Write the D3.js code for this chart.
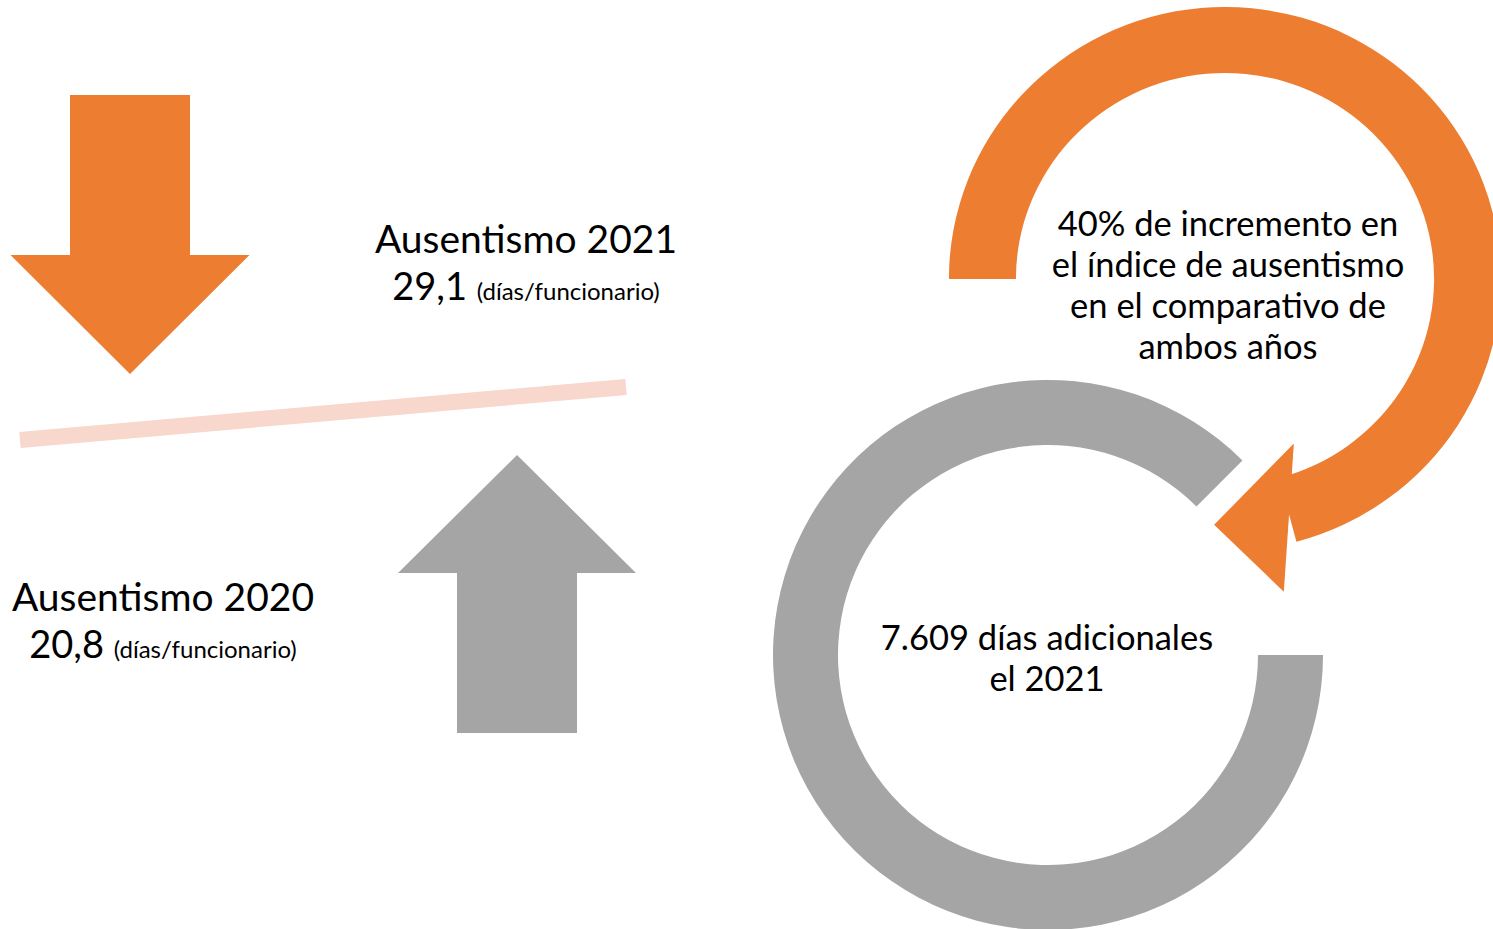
<!DOCTYPE html>
<html lang="es">
<head>
<meta charset="utf-8">
<title>Ausentismo 2020 - 2021</title>
<script src="https://cdn.jsdelivr.net/npm/d3@7"></script>
<style>
  html, body { margin: 0; padding: 0; background: #fff; }
  svg text { font-family: Lato, "Open Sans", sans-serif; fill: #000; }
</style>
</head>
<body>
<script>
// data
const years = ["2020", "2021"];
const daysPerEmployee = ["20,8", "29,1"];
const unitLabel = "(días/funcionario)";
const increaseLines = ["40% de incremento en", "el índice de ausentismo", "en el comparativo de", "ambos años"];
const extraDaysLines = ["7.609 días adicionales", "el 2021"];

const width = 1493, height = 929;
const orange = "#ED7D31", gray = "#A5A5A5", pale = "#F8D7CC";

const svg = d3.select("body").append("svg")
  .attr("width", width).attr("height", height);

// block arrows (down = orange, up = gray)
function blockArrow(cx, tailY, headY, tipY, shaftW, headW) {
  const p = d3.path();
  p.moveTo(cx - shaftW / 2, tailY);
  p.lineTo(cx + shaftW / 2, tailY);
  p.lineTo(cx + shaftW / 2, headY);
  p.lineTo(cx + headW / 2, headY);
  p.lineTo(cx, tipY);
  p.lineTo(cx - headW / 2, headY);
  p.lineTo(cx - shaftW / 2, headY);
  p.closePath();
  return p.toString();
}
svg.append("path").attr("d", blockArrow(130, 95, 255, 374, 120, 239)).attr("fill", orange);
svg.append("path").attr("d", blockArrow(517, 733, 573, 455, 120, 238)).attr("fill", gray);

// balance bar
svg.append("line")
  .attr("x1", 20).attr("y1", 440).attr("x2", 626).attr("y2", 387)
  .attr("stroke", pale).attr("stroke-width", 16);

// year labels
const labels = [
  { year: years[1], val: daysPerEmployee[1], x: 526, y: 253 },
  { year: years[0], val: daysPerEmployee[0], x: 163, y: 611 }
];
labels.forEach(d => {
  svg.append("text").attr("x", d.x).attr("y", d.y)
    .attr("text-anchor", "middle").style("font-size", "39px")
    .text("Ausentismo " + d.year);
  const t = svg.append("text").attr("x", d.x).attr("y", d.y + 47)
    .attr("text-anchor", "middle");
  t.append("tspan").style("font-size", "38px").text(d.val + " ");
  t.append("tspan").style("font-size", "24px").text(unitLabel);
});

// gray ring
const gc = [1048, 655];
const grayArc = d3.arc().innerRadius(210).outerRadius(275)
  .startAngle(Math.PI / 2).endAngle(2 * Math.PI + Math.PI / 4);
svg.append("path").attr("transform", `translate(${gc})`)
  .attr("d", grayArc()).attr("fill", gray);

// orange ring with arrow head (slightly wider than tall)
const oc = [1225, 279];
const orangeArc = d3.arc().innerRadius(206).outerRadius(272)
  .startAngle(-Math.PI / 2).endAngle(Math.PI * 165 / 180);
const og = svg.append("g").attr("transform", `translate(${oc}) scale(1.015,1)`);
og.append("path").attr("d", orangeArc()).attr("fill", orange);
const polar = (deg, r) => [r * Math.sin(deg * Math.PI / 180), -r * Math.cos(deg * Math.PI / 180)];
const head = [polar(157.6, 178), polar(169.5, 318), polar(182.5, 246)];
og.append("path").attr("d", d3.line()(head) + "Z").attr("fill", orange);

// ring texts
function centeredLines(lines, x, y0, dy) {
  svg.append("g").selectAll("text").data(lines).join("text")
    .attr("x", x).attr("y", (d, i) => y0 + i * dy)
    .attr("text-anchor", "middle").style("font-size", "34.5px")
    .text(d => d);
}
centeredLines(increaseLines, 1228, 236, 41);
centeredLines(extraDaysLines, 1047, 650, 41);
</script>
</body>
</html>
